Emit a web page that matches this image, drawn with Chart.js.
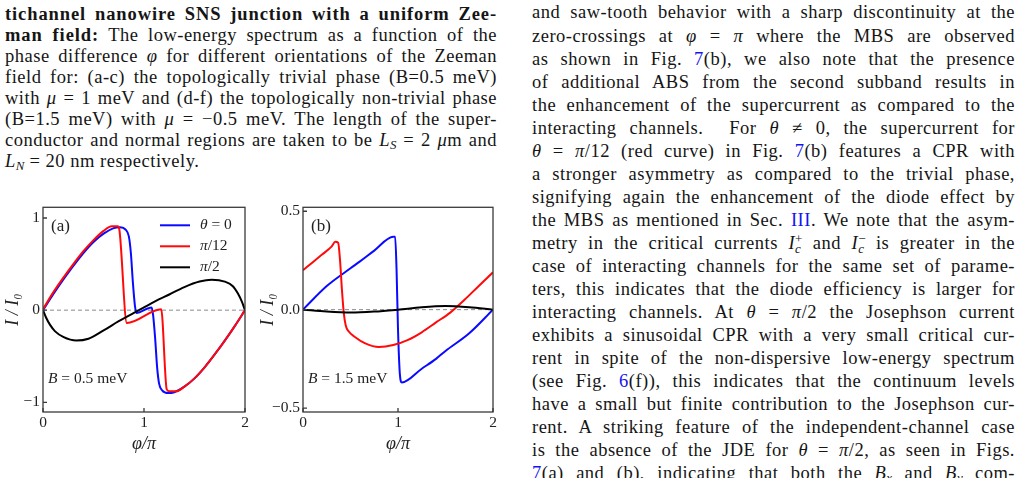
<!DOCTYPE html>
<html>
<head>
<meta charset="utf-8">
<script src="https://cdn.jsdelivr.net/npm/chart.js@4.4.1/dist/chart.umd.min.js"></script>
<style>
    body { margin: 0; width: 1028px; height: 478px; overflow: hidden; background: #fff; color: #151515; font-family: 'Liberation Serif', 'DejaVu Serif', serif; }
    .col { position: absolute; top: 0; font-size: 18.5px; letter-spacing: 0.5px; }
    .col div { position: absolute; left: 0; right: 0; text-align: justify; text-align-last: justify; }
    .col div.last { text-align-last: left; }
    .col b { letter-spacing: 0.9px; }
    #caption { left: 5px; width: 492px; }
    #body { left: 532px; width: 483px; }
    .ref { color: #1414f0; }
    sub { font-size: 0.7em; vertical-align: -0.25em; line-height: 0; letter-spacing: 0; }
    .st { display: inline-block; font-size: 0.7em; line-height: 0.75em; vertical-align: -0.3em; letter-spacing: 0; }
    .st span { display: block; }
    .panel { position: absolute; top: 195px; height: 260px; }
</style>
</head>
<body>
<div class="col" id="caption"></div>
<div class="col" id="body"></div>
<div class="panel" style="left:0px;width:255px"><canvas id="chartA"></canvas></div>
<div class="panel" style="left:255px;width:250px"><canvas id="chartB"></canvas></div>
<script>
// ticks
const phiTicks = [0, 1, 2];
const yTicksA = [-1, 0, 1];
const yTicksB = [-0.5, 0, 0.5];
const seriesLabels = ['θ = 0', 'π/12', 'π/2'];
const seriesColors = ['#0a0aff', '#ff0a0a', '#000000'];

// (a) B = 0.5 meV
const phiA0 = [0, 0.1, 0.2, 0.3, 0.4, 0.5, 0.6, 0.7, 0.76, 0.82, 0.85, 0.87, 0.89, 0.91, 0.925, 1.075, 1.09, 1.11, 1.13, 1.15, 1.18, 1.24, 1.3, 1.4, 1.5, 1.6, 1.7, 1.8, 1.9, 2];
const curA0 = [0, 0.17, 0.33, 0.48, 0.62, 0.74, 0.83, 0.89, 0.9, 0.87, 0.8, 0.62, 0.3, 0.05, -0.03, 0.03, -0.05, -0.3, -0.62, -0.8, -0.87, -0.9, -0.89, -0.83, -0.74, -0.62, -0.48, -0.33, -0.17, 0];
const phiA1 = [0, 0.1, 0.2, 0.3, 0.4, 0.5, 0.6, 0.68, 0.74, 0.755, 0.83, 1.17, 1.225, 1.25, 1.32, 1.4, 1.5, 1.6, 1.7, 1.8, 1.9, 2];
const curA1 = [0.01, 0.19, 0.35, 0.5, 0.64, 0.76, 0.86, 0.91, 0.91, 0.88, -0.14, 0.01, -0.86, -0.88, -0.88, -0.83, -0.74, -0.62, -0.48, -0.33, -0.17, 0];
const phiA2 = [0, 0.03, 0.07, 0.12, 0.2, 0.33, 0.45, 0.6, 0.75, 0.9, 1.0, 1.1, 1.25, 1.4, 1.55, 1.67, 1.8, 1.88, 1.93, 1.97, 2];
const curA2 = [0, -0.08, -0.16, -0.23, -0.29, -0.33, -0.31, -0.22, -0.12, -0.03, 0.03, 0.09, 0.17, 0.25, 0.31, 0.33, 0.31, 0.26, 0.18, 0.09, 0];

// (b) B = 1.5 meV
const phiB0 = [0, 0.25, 0.5, 0.6, 0.75, 0.95, 0.97, 0.985, 1.0, 1.02, 1.04, 1.25, 1.4, 1.5, 1.75, 2];
const curB0 = [0, 0.12, 0.21, 0.245, 0.3, 0.37, 0.37, 0.2, -0.1, -0.33, -0.37, -0.3, -0.25, -0.21, -0.12, 0];
const phiB1 = [0, 0.1, 0.2, 0.3, 0.34, 0.37, 0.39, 0.41, 0.43, 0.45, 0.48, 0.55, 0.65, 0.8, 0.95, 1.1, 1.25, 1.4, 1.55, 1.7, 1.85, 2];
const curB1 = [0.2, 0.24, 0.28, 0.32, 0.345, 0.34, 0.25, 0.1, -0.02, -0.08, -0.11, -0.14, -0.17, -0.19, -0.18, -0.155, -0.115, -0.065, -0.015, 0.05, 0.12, 0.19];
const phiB2 = [0, 0.25, 0.5, 0.75, 1, 1.25, 1.5, 1.75, 2];
const curB2 = [0, -0.01, -0.015, -0.01, 0, 0.012, 0.018, 0.012, 0];

const captionLines = [
    '<b>tichannel nanowire SNS junction with a uniform Zee-</b>',
    '<b>man field:</b> The low-energy spectrum as a function of the',
    'phase difference <i>φ</i> for different orientations of the Zeeman',
    'field for: (a-c) the topologically trivial phase (B=0.5 meV)',
    'with <i>μ</i> = 1 meV and (d-f) the topologically non-trivial phase',
    '(B=1.5 meV) with <i>μ</i> = −0.5 meV. The length of the super-',
    'conductor and normal regions are taken to be <i>L<sub>S</sub></i> = 2 <i>μ</i>m and',
    '<i>L<sub>N</sub></i> = 20 nm respectively.'
];

const bodyLines = [
    'and saw-tooth behavior with a sharp discontinuity at the',
    'zero-crossings at <i>φ</i> = <i>π</i> where the MBS are observed',
    'as shown in Fig. <span class="ref">7</span>(b), we also note that the presence',
    'of additional ABS from the second subband results in',
    'the enhancement of the supercurrent as compared to the',
    'interacting channels.&nbsp; For <i>θ</i> ≠ 0, the supercurrent for',
    '<i>θ</i> = <i>π</i>/12 (red curve) in Fig. <span class="ref">7</span>(b) features a CPR with',
    'a stronger asymmetry as compared to the trivial phase,',
    'signifying again the enhancement of the diode effect by',
    'the MBS as mentioned in Sec. <span class="ref">III</span>. We note that the asym-',
    'metry in the critical currents <i>I</i><span class="st"><span>+</span><span><i>c</i></span></span> and <i>I</i><span class="st"><span>−</span><span><i>c</i></span></span> is greater in the',
    'case of interacting channels for the same set of parame-',
    'ters, this indicates that the diode efficiency is larger for',
    'interacting channels. At <i>θ</i> = <i>π</i>/2 the Josephson current',
    'exhibits a sinusoidal CPR with a very small critical cur-',
    'rent in spite of the non-dispersive low-energy spectrum',
    '(see Fig. <span class="ref">6</span>(f)), this indicates that the continuum levels',
    'have a small but finite contribution to the Josephson cur-',
    'rent. A striking feature of the independent-channel case',
    'is the absence of the JDE for <i>θ</i> = <i>π</i>/2, as seen in Figs.',
    '<span class="ref">7</span>(a) and (b), indicating that both the <i>B<sub>x</sub></i> and <i>B<sub>y</sub></i> com-'
];

function fillColumn(id, lines, firstCenter, lineHeight, lastIndex) {
    const col = document.getElementById(id);
    lines.forEach((html, i) => {
        const div = document.createElement('div');
        div.innerHTML = html;
        div.style.top = (firstCenter + i * lineHeight - lineHeight / 2) + 'px';
        div.style.lineHeight = lineHeight + 'px';
        if (i === lastIndex) div.classList.add('last');
        col.appendChild(div);
    });
}

fillColumn('caption', captionLines, 14.5, 21, captionLines.length - 1);
fillColumn('body', bodyLines, 13, 23.05, -1);

const serif = "'Liberation Serif', 'DejaVu Serif', serif";
const ink = '#222';

function minusFmt(v, digits) {
    const s = Math.abs(v).toFixed(digits);
    return v < 0 ? '−' + s : s;
}

function drawRuns(ctx, runs, x, y, size) {
    ctx.textBaseline = 'middle';
    ctx.textAlign = 'left';
    runs.forEach(([text, italic]) => {
        ctx.font = (italic ? 'italic ' : '') + size + 'px ' + serif;
        ctx.fillText(text, x, y);
        x += ctx.measureText(text).width;
    });
}

// greek letters and single latin symbols in italic, the rest upright
function mathRuns(text) {
    const runs = [];
    for (const ch of text) {
        const it = /[α-ωA-Z]/.test(ch);
        if (runs.length && runs[runs.length - 1][1] === it) runs[runs.length - 1][0] += ch;
        else runs.push([ch, it]);
    }
    return runs;
}

const framePlugin = {
    id: 'frame',
    beforeDatasetsDraw(chart) {
        const { ctx, chartArea: ca, scales } = chart;
        const y0 = scales.y.getPixelForValue(0);
        ctx.save();
        ctx.strokeStyle = '#8a8a8a';
        ctx.lineWidth = 1;
        ctx.setLineDash([4, 3]);
        ctx.beginPath();
        ctx.moveTo(ca.left, y0);
        ctx.lineTo(ca.right, y0);
        ctx.stroke();
        ctx.restore();
    },
    afterDraw(chart, args, opts) {
        const { ctx, chartArea: ca, scales } = chart;
        ctx.save();
        ctx.strokeStyle = '#3a3a3a';
        ctx.lineWidth = 1.3;
        ctx.strokeRect(ca.left, ca.top, ca.right - ca.left, ca.bottom - ca.top);
        ctx.beginPath();
        scales.x.ticks.forEach(t => {
            const px = scales.x.getPixelForValue(t.value);
            ctx.moveTo(px, ca.bottom);
            ctx.lineTo(px, ca.bottom - 4);
        });
        scales.y.ticks.forEach(t => {
            const py = scales.y.getPixelForValue(t.value);
            ctx.moveTo(ca.left, py);
            ctx.lineTo(ca.left + 4, py);
        });
        ctx.stroke();

        ctx.fillStyle = ink;
        drawRuns(ctx, [[opts.tag, false]], ca.left + 8, ca.top + 19, 17);
        drawRuns(ctx, [['B', true], [' = ' + opts.field + ' meV', false]], ca.left + 5, ca.top + 172, 15.5);

        if (opts.legend) {
            chart.data.datasets.forEach((ds, i) => {
                const y = ca.top + 18 + i * 21;
                ctx.strokeStyle = ds.borderColor;
                ctx.lineWidth = 2;
                ctx.beginPath();
                ctx.moveTo(ca.left + 117, y);
                ctx.lineTo(ca.left + 147, y);
                ctx.stroke();
                ctx.fillStyle = ink;
                drawRuns(ctx, mathRuns(ds.label), ca.left + 157, y, 15.5);
            });
        }
        ctx.restore();
    }
};

function makeSeries(phi, cur) {
    return phi.map((p, i) => ({ x: p, y: cur[i] }));
}

function createPanel(canvasId, curves, yTicks, yMin, yMax, digits, yAxisWidth, padRight, tag, field, legend) {
    const ctx = document.getElementById(canvasId).getContext('2d');
    // blue under red, black on top
    const drawOrder = [3, 2, 1];
    const datasets = curves.map((c, i) => ({
        label: seriesLabels[i],
        data: makeSeries(c[0], c[1]),
        borderColor: seriesColors[i],
        borderWidth: 2,
        pointRadius: 0,
        cubicInterpolationMode: 'monotone',
        fill: false,
        order: drawOrder[i]
    }));

    return new Chart(ctx, {
        type: 'line',
        data: { datasets: datasets },
        plugins: [framePlugin],
        options: {
            responsive: true,
            maintainAspectRatio: false,
            animation: false,
            layout: { padding: { left: 0, right: padRight, top: 6, bottom: 0 } },
            plugins: {
                legend: { display: false },
                tooltip: { enabled: false },
                frame: { tag: tag, field: field, legend: legend }
            },
            scales: {
                x: {
                    type: 'linear',
                    min: 0,
                    max: 2,
                    grid: { display: false, drawTicks: false },
                    border: { display: false },
                    afterBuildTicks: s => { s.ticks = phiTicks.map(v => ({ value: v })); },
                    afterFit: s => { s.height = 43; },
                    ticks: {
                        color: ink,
                        padding: 2,
                        maxRotation: 0,
                        font: { family: serif, size: 15.5 },
                        callback: v => String(v)
                    },
                    title: {
                        display: true,
                        text: 'φ/π',
                        color: ink,
                        padding: { top: 0, bottom: 0 },
                        font: { family: serif, size: 18, style: 'italic' }
                    }
                },
                y: {
                    type: 'linear',
                    min: yMin,
                    max: yMax,
                    grid: { display: false, drawTicks: false },
                    border: { display: false },
                    afterBuildTicks: s => { s.ticks = yTicks.map(v => ({ value: v })); },
                    afterFit: s => { s.width = yAxisWidth; },
                    ticks: {
                        color: ink,
                        padding: 3,
                        font: { family: serif, size: 15.5 },
                        callback: v => minusFmt(v, digits)
                    },
                    title: {
                        display: true,
                        text: 'I / I₀',
                        color: ink,
                        padding: { top: 2, bottom: 0 },
                        font: { family: serif, size: 18, style: 'italic' }
                    }
                }
            }
        }
    });
}

createPanel('chartA', [[phiA0, curA0], [phiA1, curA1], [phiA2, curA2]], yTicksA, -1.105, 1.116, 0, 43, 10, '(a)', '0.5', true);
createPanel('chartB', [[phiB0, curB0], [phiB1, curB1], [phiB2, curB2]], yTicksB, -0.52, 0.52, 1, 48, 12, '(b)', '1.5', false);
</script>
</body>
</html>
